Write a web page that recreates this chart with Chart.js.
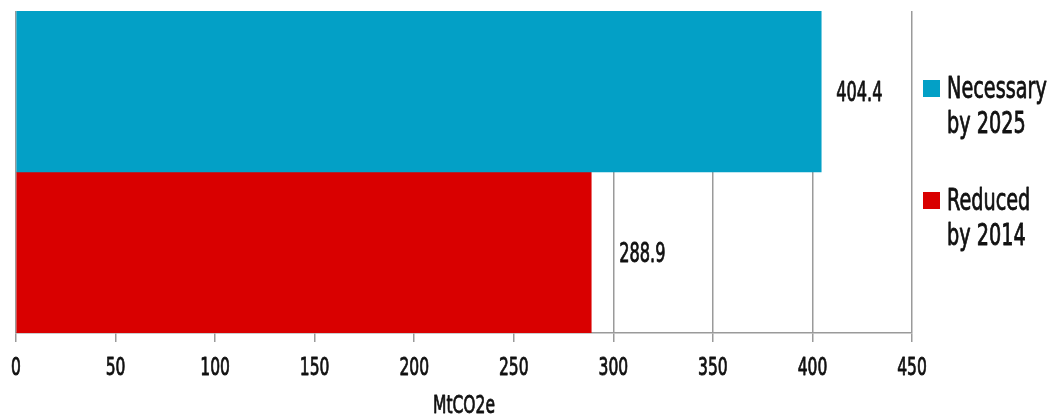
<!DOCTYPE html>
<html>
<head>
<meta charset="utf-8">
<script src="https://cdn.jsdelivr.net/npm/chart.js@4/dist/chart.umd.min.js"></script>
<style>
  html, body { margin: 0; padding: 0; background: #fff; }
  #wrap { width: 1047px; height: 414px; position: relative; overflow: hidden; }
</style>
</head>
<body>
<div id="wrap"><canvas id="emissions"></canvas></div>
<script>
// Emission reductions, MtCO2e
const categories = ['Necessary by 2025', 'Reduced by 2014'];
const legendLines = [['Necessary', 'by 2025'], ['Reduced', 'by 2014']];
const reductionValues = [404.4, 288.9];
const barColors = ['#03a0c6', '#d90000'];
const tickValues = [0, 50, 100, 150, 200, 250, 300, 350, 400, 450];
const axisTitle = 'MtCO2e';

const FONT = '"DejaVu Sans Condensed", "DejaVu Sans", sans-serif';
const SQUEEZE = 0.69;   // narrow the glyphs horizontally
const TEXT = '#111';

// draw text squeezed horizontally, anchored at x; a thin stroke gives it more weight
function condensedText(ctx, text, x, y, size, align) {
    ctx.save();
    ctx.font = size + 'px ' + FONT;
    ctx.fillStyle = TEXT;
    ctx.strokeStyle = TEXT;
    ctx.lineWidth = 0.8;
    ctx.lineJoin = 'round';
    ctx.textAlign = align || 'left';
    ctx.textBaseline = 'alphabetic';
    ctx.translate(x, y);
    ctx.scale(SQUEEZE, 1);
    ctx.fillText(text, 0, 0);
    ctx.strokeText(text, 0, 0);
    ctx.restore();
}

// tick labels, axis title, bar values and legend
const chartText = {
    id: 'chartText',
    afterDraw(chart) {
        const ctx = chart.ctx;
        const xs = chart.scales.x;
        const area = chart.chartArea;

        tickValues.forEach(v => {
            condensedText(ctx, String(v), xs.getPixelForValue(v), area.bottom + 42, 25, 'center');
        });
        condensedText(ctx, axisTitle, (area.left + area.right) / 2, area.bottom + 80, 25, 'center');

        const pads = [15, 28];
        chart.data.datasets.forEach((ds, i) => {
            chart.getDatasetMeta(i).data.forEach((bar, j) => {
                const v = ds.data[j];
                if (v == null) return;
                condensedText(ctx, v.toFixed(1), bar.x + pads[i], bar.y + 9, 26, 'left');
            });
        });

        // legend column to the right of the plot
        const lx = area.right + 11;
        const firstTop = 80;
        const itemStep = 112;
        const lineStep = 35;
        legendLines.forEach((lines, i) => {
            const top = firstTop + i * itemStep;
            ctx.fillStyle = barColors[i];
            ctx.fillRect(lx, top, 17, 17);
            lines.forEach((line, k) => {
                condensedText(ctx, line, lx + 24, top + 18 + k * lineStep, 31, 'left');
            });
        });
    }
};

// one dataset per category so each bar keeps its own colour
const datasets = categories.map((c, i) => ({
    label: c,
    data: categories.map((_, j) => (j === i ? reductionValues[i] : null)),
    backgroundColor: barColors[i],
    borderWidth: 0,
    barPercentage: 1,
    categoryPercentage: 1,
    grouped: false
}));

new Chart(document.getElementById('emissions').getContext('2d'), {
    type: 'bar',
    data: { labels: categories, datasets },
    options: {
        indexAxis: 'y',
        responsive: true,
        maintainAspectRatio: false,
        animation: false,
        layout: { padding: { top: 11, left: 16, right: 135, bottom: 72 } },
        scales: {
            x: {
                min: 0,
                max: 450,
                afterBuildTicks: (axis) => { axis.ticks = tickValues.map(v => ({ value: v })); },
                grid: { color: '#9a9a9a', lineWidth: 1.5, tickLength: 9 },
                border: { display: true, color: '#9a9a9a', width: 1.5 },
                ticks: { display: false }
            },
            y: { display: false }
        },
        plugins: {
            legend: { display: false },
            tooltip: { enabled: false }
        }
    },
    plugins: [chartText]
});
</script>
</body>
</html>
